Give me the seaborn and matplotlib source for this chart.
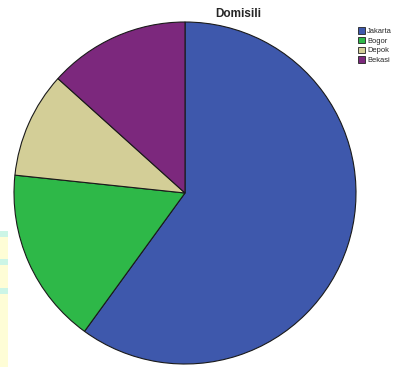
import matplotlib
matplotlib.use("Agg")
import matplotlib.pyplot as plt
from matplotlib.patches import Patch, Rectangle
import seaborn as sns

# Respondent counts by place of residence
categories = ["Jakarta", "Bogor", "Depok", "Bekasi"]
counts = [18, 5, 3, 4]
colors = ["#3E58AC", "#2EB848", "#D3CE97", "#7C287D"]
title = "Domisili"

sns.set_style("white")
plt.rcParams["font.family"] = ["Liberation Sans", "DejaVu Sans"]

fig = plt.figure(figsize=(3.95, 3.67), dpi=100)

# pale strip along the left margin
fig.patches.append(Rectangle((0, 0), 8 / 395, 135 / 367, transform=fig.transFigure,
                             facecolor="#FEFDD6", edgecolor="none", zorder=0))
for ytop in (231, 259, 288):
    fig.patches.append(Rectangle((0, (367 - ytop - 6) / 367), 8 / 395, 6 / 367,
                                 transform=fig.transFigure, facecolor="#CCF5E6",
                                 edgecolor="none", zorder=0))

ax = fig.add_axes([14 / 395, 3 / 367, 342 / 395, 342 / 367])
ax.pie(counts, colors=colors, startangle=90, counterclock=False, radius=1.0,
       wedgeprops=dict(edgecolor="#1a1a1a", linewidth=0.8))
ax.set_xlim(-1.0, 1.0)
ax.set_ylim(-1.0, 1.0)
ax.set_aspect("equal")
ax.axis("off")

fig.text(238 / 395, 1 - 14 / 367, title, ha="center", va="center",
         fontsize=8.5, fontweight="bold")

handles = [Patch(facecolor=c, edgecolor="#222222", linewidth=0.6, label=l)
           for c, l in zip(colors, categories)]
fig.legend(handles=handles, loc="upper left", bbox_to_anchor=(353 / 395, 1 - 22 / 367),
           frameon=False, fontsize=5.4, handlelength=0.95, handleheight=0.95,
           handletextpad=0.2, labelspacing=0.25, borderpad=0.2)

fig.savefig("out.png", dpi=100)
